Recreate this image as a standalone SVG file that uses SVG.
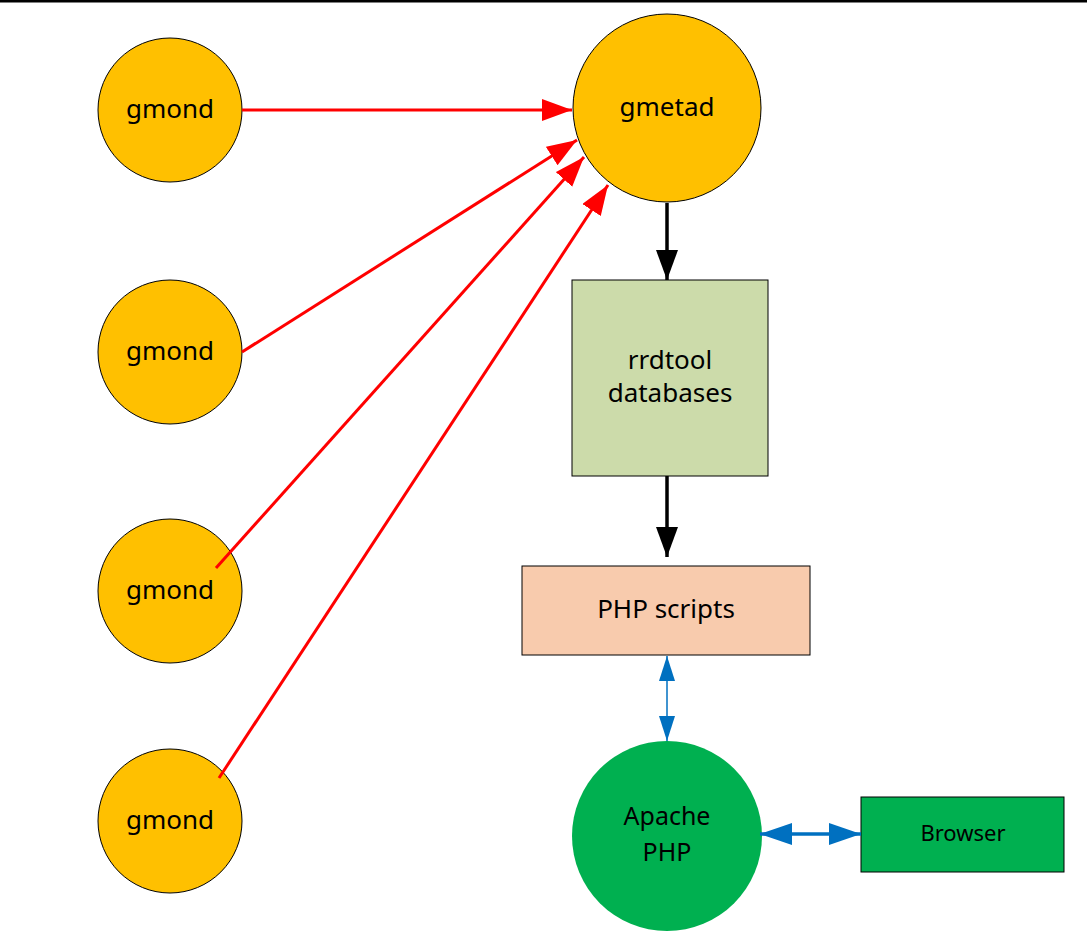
<svg xmlns="http://www.w3.org/2000/svg" width="1087" height="942" viewBox="0 0 1087 942">
<style>
text{font-family:"Noto Sans","Open Sans","DejaVu Sans",sans-serif;fill:#000;text-anchor:middle;dominant-baseline:central}
.gm{fill:#FFC000;stroke:#000;stroke-width:1}
.big{font-size:26px}
.ap{font-size:25px}
.sm{font-size:22px}
.red{stroke:#FF0000;stroke-width:3;fill:none}
.blk{stroke:#000;stroke-width:3.5;fill:none}
.blue{stroke:#0070C0;fill:none}
</style>
<defs>
<marker id="ar" markerUnits="userSpaceOnUse" markerWidth="32" markerHeight="24" refX="30" refY="11" orient="auto"><path d="M0,0 L30,11 L0,22 Z" fill="#FF0000"/></marker>
<marker id="ab" markerUnits="userSpaceOnUse" markerWidth="32" markerHeight="24" refX="30" refY="11" orient="auto"><path d="M0,0 L30,11 L0,22 Z" fill="#000"/></marker>
<marker id="bs" markerUnits="userSpaceOnUse" markerWidth="28" markerHeight="18" refX="25" refY="8" orient="auto-start-reverse"><path d="M0,0 L25,8 L0,16 Z" fill="#0070C0"/></marker>
<marker id="bl" markerUnits="userSpaceOnUse" markerWidth="34" markerHeight="24" refX="32" refY="11" orient="auto-start-reverse"><path d="M0,0 L32,11 L0,22 Z" fill="#0070C0"/></marker>
</defs>
<rect width="1087" height="942" fill="#fff"/>
<line x1="0" y1="1" x2="1087" y2="1" stroke="#000" stroke-width="3"/>
<g id="gmond1"><circle class="gm" cx="170" cy="110" r="72"/><text class="big" x="170" y="108">gmond</text></g>
<g id="gmond2"><circle class="gm" cx="170" cy="352" r="72"/><text class="big" x="170" y="350">gmond</text></g>
<g id="gmond3"><circle class="gm" cx="170" cy="591" r="72"/><text class="big" x="170" y="589">gmond</text></g>
<g id="gmond4"><circle class="gm" cx="170" cy="821" r="72"/><text class="big" x="170" y="819">gmond</text></g>
<g id="gmetad"><circle class="gm" cx="667" cy="108" r="94"/><text class="big" x="667" y="106">gmetad</text></g>
<g id="rrdtool"><rect x="572" y="280" width="196" height="196" fill="#CCDBAA" stroke="#000" stroke-width="1"/><text class="big" x="670" y="359">rrdtool</text><text class="big" x="670" y="392">databases</text></g>
<g id="php"><rect x="522" y="566" width="288" height="89" fill="#F8CBAD" stroke="#000" stroke-width="1"/><text class="big" x="666" y="608">PHP scripts</text></g>
<g id="apache"><circle cx="667" cy="836" r="95" fill="#00B050"/><text class="ap" x="667" y="815">Apache</text><text class="ap" x="667" y="851">PHP</text></g>
<g id="browser"><rect x="861" y="797" width="203" height="75" fill="#00B050" stroke="#000" stroke-width="1"/><text class="sm" x="963" y="832">Browser</text></g>
<g id="connectors">
<line class="red" x1="242" y1="110" x2="572" y2="110" marker-end="url(#ar)"/>
<line class="red" x1="242" y1="352" x2="577" y2="140" marker-end="url(#ar)"/>
<line class="red" x1="216" y1="568" x2="584" y2="157" marker-end="url(#ar)"/>
<line class="red" x1="219" y1="778" x2="608" y2="185" marker-end="url(#ar)"/>
<line class="blk" x1="667" y1="203" x2="667" y2="280" marker-end="url(#ab)"/>
<line class="blk" x1="667" y1="476" x2="667" y2="557" marker-end="url(#ab)"/>
<line class="blue" stroke-width="1.5" x1="667" y1="656" x2="667" y2="741" marker-start="url(#bs)" marker-end="url(#bs)"/>
<line class="blue" stroke-width="3.5" x1="760" y1="834" x2="861" y2="834" marker-start="url(#bl)" marker-end="url(#bl)"/>
</g>
</svg>
